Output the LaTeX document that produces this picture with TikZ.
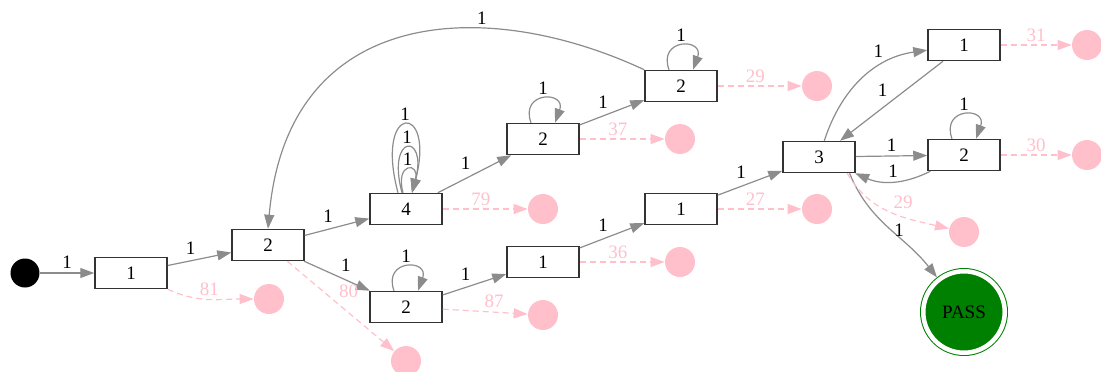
\documentclass[tikz,border=0pt]{standalone}
\usepackage{fontspec}
\setmainfont{Liberation Serif}
\usetikzlibrary{arrows.meta,positioning}

\definecolor{edgegray}{HTML}{8C8C8C}
\definecolor{boxgray}{HTML}{333333}
\definecolor{sinkpink}{HTML}{FFC0CB}
\definecolor{passgreen}{HTML}{008000}

\begin{document}
\begin{tikzpicture}[>={Triangle[length=7pt,width=5pt]},node distance=68.5pt,on grid,auto,
    font=\fontsize{9.5}{11}\selectfont,
    block/.style={rectangle,draw=boxgray,line width=0.75pt,minimum width=36pt,minimum height=15.5pt,inner sep=0pt},
    sink/.style={circle,fill=sinkpink,minimum size=15pt,inner sep=0pt},
    init/.style={circle,fill=black,minimum size=14.5pt,inner sep=0pt},
    final/.style={circle,fill=passgreen,draw=passgreen,line width=0.5pt,double=white,double distance=2.25pt,minimum size=40.75pt,inner sep=0pt,outer sep=1.6pt},
    hit/.style={->,color=edgegray,line width=0.6pt,every node/.style={text=black,inner sep=1.8pt}},
    miss/.style={->,color=sinkpink,line width=0.6pt,dash pattern=on 3pt off 2pt,every node/.style={inner sep=1.5pt}}]
    \useasboundingbox (-12.5pt,-49pt) rectangle (538pt,136.5pt);

    \node[init] (start) {};
    \node[block] (n1) [right=53pt of start] {1};
    \node[block] (n2) [above right=14pt and 68.5pt of n1] {2};
    \node[block] (n4) [above right=18pt and 69pt of n2] {4};
    \node[block] (n2b) [below right=31pt and 69pt of n2] {2};
    \node[block] (n2c) [above right=35pt and 68.5pt of n4] {2};
    \node[block] (n2d) [above right=26.5pt and 69pt of n2c] {2};
    \node[block] (n1b) [above right=22.5pt and 68.5pt of n2b] {1};
    \node[block] (n1c) [above right=26.5pt and 69pt of n1b] {1};
    \node[block] (n3) [above right=26pt and 69pt of n1c] {3};
    \node[block] (n1d) [above right=56pt and 72.5pt of n3] {1};
    \node[block] (n2e) [above right=1pt and 72.5pt of n3] {2};
    \node[final] (pass) [below right=77.5pt and 72.5pt of n3] {PASS};

    \node[sink] (x1) [below right=13pt and 69pt of n1] {};
    \node[sink] (x2) [below right=58pt and 69pt of n2] {};
    \node[sink] (x4) [right=of n4] {};
    \node[sink] (x2b) [below right=4pt and 68.5pt of n2b] {};
    \node[sink] (x2c) [right=of n2c] {};
    \node[sink] (x2d) [right=68pt of n2d] {};
    \node[sink] (x1b) [right=of n1b] {};
    \node[sink] (x1c) [right=68pt of n1c] {};
    \node[sink] (x3) [below right=37.5pt and 72.5pt of n3] {};
    \node[sink] (x1d) [right=61.5pt of n1d] {};
    \node[sink] (x2e) [right=61.5pt of n2e] {};

    \path[hit]
    (start) edge node {1} (n1)
    (n1) edge node {1} (n2)
    (n2) edge node {1} (n4)
         edge node {1} (n2b)
    (n4) edge node {1} (n2c)
    (n2b) edge node {1} (n1b)
    (n2c) edge node {1} (n2d)
    (n1b) edge node {1} (n1c)
    (n1c) edge node {1} (n3)
    (n3) edge node {1} (n2e)
         edge [out=72,in=188] node [pos=0.72] {1} (n1d)
    (n2e) edge [bend left=25] node [swap] {1} (n3)
    (n1d) edge node [swap] {1} (n3)
    (n3.-28) edge [out=-68,in=128] node [pos=0.52,right] {1} (pass)
    (n2d.north west) edge [out=155,in=85,out distance=88pt,in distance=112pt] node [pos=0.33,above] {1} (n2.north)
    ([xshift=-4pt]n4.north) edge [out=105,in=75,min distance=47pt] node [above] {1} ([xshift=3pt]n4.north)
    ([xshift=-2pt]n4.north) edge [out=105,in=75,min distance=31pt] node [above] {1} ([xshift=3pt]n4.north)
    ([xshift=-1.5pt]n4.north) edge [out=105,in=75,min distance=16pt] node [above] {1} ([xshift=3pt]n4.north)
    ([xshift=-6pt]n2b.north) edge [out=110,in=70,min distance=17pt] node [above] {1} ([xshift=6pt]n2b.north)
    ([xshift=-6pt]n2c.north) edge [out=110,in=70,min distance=17pt] node [above] {1} ([xshift=6pt]n2c.north)
    ([xshift=-6pt]n2d.north) edge [out=110,in=70,min distance=17pt] node [above] {1} ([xshift=6pt]n2d.north)
    ([xshift=-6pt]n2e.north) edge [out=110,in=70,min distance=17pt] node [above] {1} ([xshift=6pt]n2e.north);

    \path[miss]
    (n1.south east) edge [out=-25,in=180] node {81} (x1)
    (n2) edge node [pos=0.45] {80} (x2)
    (n4) edge node [pos=0.45] {79} (x4)
    (n2b) edge node [pos=0.45] {87} (x2b)
    (n2c) edge node [pos=0.45] {37} (x2c)
    (n2d) edge node [pos=0.45] {29} (x2d)
    (n1b) edge node [pos=0.45] {36} (x1b)
    (n1c) edge node [pos=0.45] {27} (x1c)
    (n3.-30) edge [out=-60,in=167] node {29} (x3)
    (n1d) edge node {31} (x1d)
    (n2e) edge node {30} (x2e);
\end{tikzpicture}
\end{document}
